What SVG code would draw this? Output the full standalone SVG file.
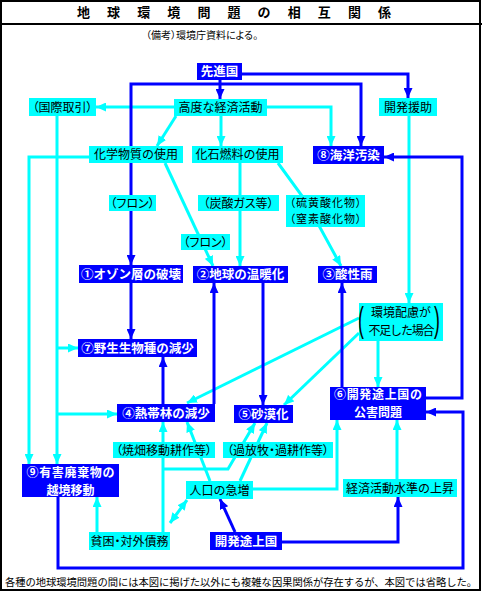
<svg xmlns="http://www.w3.org/2000/svg" width="482" height="592" viewBox="0 0 482 592">
<defs>
<marker id="ab" markerUnits="userSpaceOnUse" markerWidth="10" markerHeight="9" viewBox="0 0 10 9" refX="10" refY="4.5" orient="auto"><path d="M0,0 L10,4.5 L0,9 z" fill="#0000FF"/></marker>
<marker id="ac" markerUnits="userSpaceOnUse" markerWidth="10" markerHeight="9" viewBox="0 0 10 9" refX="10" refY="4.5" orient="auto-start-reverse"><path d="M0,0 L10,4.5 L0,9 z" fill="#00FFFF"/></marker>
</defs>
<style>
.frame{fill:none;stroke:#000;stroke-width:2}
.c rect{fill:#00FFFF}
.b rect{fill:#0000FF}
text{font-family:"Noto Sans CJK JP","Noto Sans CJK SC",sans-serif}
.c text{font-size:12px;fill:#000;text-anchor:middle}
.b text{font-size:12.5px;font-weight:bold;fill:#fff;text-anchor:middle}
.b text.two{font-size:12px}
.c text.two{font-size:11px}
.p{font-feature-settings:"palt"}
.lb{fill:none;stroke:#0000FF;stroke-width:3;marker-end:url(#ab)}
.lc{fill:none;stroke:#00FFFF;stroke-width:3;marker-end:url(#ac)}
.c text.par{font-family:"Liberation Sans",sans-serif;font-size:35px;fill:#000}
</style>
<rect class="frame" x="1" y="1" width="479" height="589"/>
<line x1="0" y1="24" x2="482" y2="24" stroke="#000" stroke-width="2"/>
<text x="77" y="17" font-size="13" font-weight="bold" letter-spacing="17.1">地球環境問題の相互関係</text>
<text class="p" x="146" y="39" font-size="10">（備考）環境庁資料による。</text>

<g id="connectors">
<g id="cyan-lines">
<path class="lc" d="M174,107 H96"/>
<path class="lc" d="M267,107 H331 V146"/>
<path class="lc" d="M176,116 L157,146"/>
<path class="lc" d="M221,116 V146"/>
<path class="lc" d="M409,116 V303"/>
<path class="lc" d="M57,116 V464"/>
<path class="lc" d="M57,348 H78"/>
<path class="lc" d="M57,414 H117"/>
<path class="lc" d="M89,157 H29 V464"/>
<path class="lc" d="M165,163 L213,266"/>
<path class="lc" d="M240,163 V266"/>
<path class="lc" d="M278,163 L305,200 L341,266"/>
<path class="lc" d="M359,318 L187,403"/>
<path class="lc" d="M359,333 L284,405"/>
<path class="lc" d="M378,341 V387"/>
<path class="lc" d="M253,489 H337 V420"/>
<path class="lc" d="M397,479 V420"/>
<path class="lc" d="M97,532 V497"/>
<path class="lc" d="M163,532 V422"/>
<path class="lc" d="M163,469 H228 L255,423"/>
<path class="lc" d="M210,481 L187,422"/>
<path class="lc" d="M240,481 L267,423"/>
<path class="lc" d="M170,523 L187,500" style="marker-start:url(#ac)"/>
</g>
<g id="blue-lines">
<path class="lb" d="M242,74 H408 V98"/>
<path class="lb" d="M220,80 V99"/>
<path class="lb" d="M220,84 H361 V146"/>
<path class="lb" d="M220,84 H131 V265"/>
<path class="lb" d="M131,283 V339"/>
<path class="lb" d="M163,404 V357"/>
<path class="lb" d="M214,404 V283"/>
<path class="lb" d="M263,283 V405"/>
<path class="lb" d="M342,387 V283"/>
<path class="lb" d="M426,398 H462 V157 H384"/>
<path class="lb" d="M58,497 V568 H463 V412 H426"/>
<path class="lb" d="M282,542 H398 V497"/>
<path class="lb" d="M235,532 L220,499"/>
</g>
</g>

<g id="n-senshin" class="b"><rect x="197" y="63" width="45" height="17"/><text x="219.5" y="76">先進国</text></g>
<g id="n-koudo" class="c"><rect x="174" y="99" width="93" height="17"/><text x="220.5" y="112">高度な経済活動</text></g>
<g id="n-kokusai" class="c"><rect x="29" y="98" width="67" height="18"/><text class="p" x="62.5" y="111.5">（国際取引）</text></g>
<g id="n-enjo" class="c"><rect x="379" y="98" width="58" height="18"/><text x="408" y="111.5">開発援助</text></g>
<g id="n-kagaku" class="c"><rect x="89" y="146" width="94" height="17"/><text x="136" y="159">化学物質の使用</text></g>
<g id="n-kaseki" class="c"><rect x="192" y="146" width="91" height="17"/><text x="237.5" y="159">化石燃料の使用</text></g>
<g id="n-freon1" class="c"><rect x="109" y="195" width="47" height="16"/><text class="p" x="132.5" y="207.5">（フロン）</text></g>
<g id="n-tansan" class="c"><rect x="198" y="195" width="81" height="16"/><text class="p" x="238.5" y="207.5">（炭酸ガス等）</text></g>
<g id="n-iou" class="c"><rect x="286" y="195" width="79" height="32"/><text class="p two" x="325.5" y="206.5" textLength="72">（硫黄酸化物）</text><text class="p two" x="325.5" y="222.5" textLength="72">（窒素酸化物）</text></g>
<g id="n-kaiyo" class="b"><rect x="313" y="146" width="71" height="18"/><text x="348.5" y="159.5">⑧海洋汚染</text></g>
<g id="n-freon2" class="c"><rect x="181" y="234" width="49" height="16"/><text class="p" x="205.5" y="246.5">（フロン）</text></g>
<g id="n-ozone" class="b"><rect x="79" y="265" width="104" height="18"/><text x="131" y="278.5">①オゾン層の破壊</text></g>
<g id="n-ondan" class="b"><rect x="193" y="266" width="95" height="17"/><text x="240.5" y="279">②地球の温暖化</text></g>
<g id="n-sansei" class="b"><rect x="318" y="266" width="59" height="17"/><text x="347.5" y="279">③酸性雨</text></g>
<g id="n-hairyo" class="c"><rect x="359" y="303" width="84" height="38"/><text x="401" y="317">環境配慮が</text><text x="401.5" y="334.5" textLength="66">不足した場合</text><text class="par" transform="translate(361,332) scale(0.5,1)">(</text><text class="par" transform="translate(437,332) scale(0.5,1)">)</text></g>
<g id="n-yasei" class="b"><rect x="78" y="339" width="119" height="18"/><text x="137.5" y="352.5">⑦野生生物種の減少</text></g>
<g id="n-nettai" class="b"><rect x="117" y="404" width="98" height="18"/><text x="166" y="417.5">④熱帯林の減少</text></g>
<g id="n-sabaku" class="b"><rect x="234" y="405" width="59" height="18"/><text x="263.5" y="418.5">⑤砂漠化</text></g>
<g id="n-kogai" class="b"><rect x="330" y="387" width="96" height="33"/><text class="two" x="378" y="399" textLength="88">⑥開発途上国の</text><text class="two" x="378" y="416.5">公害問題</text></g>
<g id="n-yakihata" class="c"><rect x="113" y="442" width="102" height="16"/><text class="p" x="164" y="454.5">（焼畑移動耕作等）</text></g>
<g id="n-kahoboku" class="c"><rect x="223" y="442" width="110" height="16"/><text class="p" x="278" y="454.5">（過放牧・過耕作等）</text></g>
<g id="n-yugai" class="b"><rect x="22" y="464" width="97" height="33"/><text class="two" x="70.5" y="477" textLength="88">⑨有害廃棄物の</text><text class="two" x="70.5" y="494.5">越境移動</text></g>
<g id="n-jinko" class="c"><rect x="186" y="481" width="67" height="18"/><text x="219.5" y="494.5">人口の急増</text></g>
<g id="n-keizai" class="c"><rect x="343" y="479" width="114" height="18"/><text x="400" y="492.5">経済活動水準の上昇</text></g>
<g id="n-hinkon" class="c"><rect x="89" y="532" width="81" height="18"/><text class="p" x="129.5" y="545.5">貧困・対外債務</text></g>
<g id="n-tojo" class="b"><rect x="210" y="532" width="72" height="18"/><text x="246" y="545.5">開発途上国</text></g>

<text x="5" y="585.5" font-size="10.3" textLength="472">各種の地球環境問題の間には本図に掲げた以外にも複雑な因果関係が存在するが、本図では省略した。</text>
</svg>
